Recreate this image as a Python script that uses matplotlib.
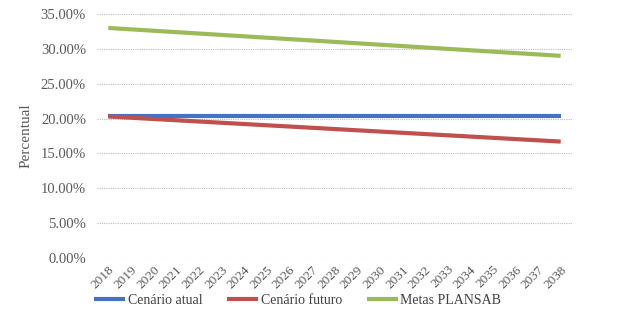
import matplotlib
matplotlib.use("Agg")
import matplotlib.pyplot as plt
from matplotlib.ticker import FuncFormatter

years = [str(y) for y in range(2018, 2039)]
cenario_atual = [20.3] * 21
cenario_futuro = [20.3, 20.12, 19.94, 19.76, 19.58, 19.4, 19.22, 19.04, 18.86, 18.68, 18.5,
                  18.32, 18.14, 17.96, 17.78, 17.6, 17.42, 17.24, 17.06, 16.88, 16.7]
metas_plansab = [33.0, 32.8, 32.6, 32.4, 32.2, 32.0, 31.8, 31.6, 31.4, 31.2, 31.0,
                 30.8, 30.6, 30.4, 30.2, 30.0, 29.8, 29.6, 29.4, 29.2, 29.0]
y_ticks = [0, 5, 10, 15, 20, 25, 30, 35]

plt.rcParams['font.family'] = ['Liberation Serif', 'DejaVu Serif']
fig = plt.figure(figsize=(6.23, 3.29), dpi=100)
ax = fig.add_axes([97/623, 71/329, 475/623, 244/329])

x = list(range(len(years)))
ax.plot(x, cenario_atual, color='#4472C4', lw=3.0, label='Cenário atual', solid_capstyle='butt')
ax.plot(x, cenario_futuro, color='#C0504D', lw=3.0, label='Cenário futuro', solid_capstyle='butt')
ax.plot(x, metas_plansab, color='#9BBB59', lw=3.0, label='Metas PLANSAB', solid_capstyle='butt')

ax.set_xlim(-0.5, len(years) - 0.5)
ax.set_ylim(0, 35)
ax.set_yticks(y_ticks)
ax.yaxis.set_major_formatter(FuncFormatter(lambda v, p: f"{v:.2f}%"))
ax.set_xticks(x)
ax.set_xticklabels(years, rotation=45, ha='right', rotation_mode='anchor')
ax.grid(axis='y', color='#BFBFBF', linestyle=(0, (1, 1)), lw=0.8)
ax.set_axisbelow(True)
for s in ax.spines.values():
    s.set_visible(False)
ax.tick_params(axis='both', length=0, colors='#595959')
ax.tick_params(axis='y', pad=8, labelsize=10.5)
ax.tick_params(axis='x', labelsize=9.5, pad=4)
ax.set_ylabel('Percentual', color='#595959', fontsize=11, labelpad=6)

fig.legend(loc='center', bbox_to_anchor=(0.478, 0.088), ncol=3, frameon=False,
           fontsize=10, labelcolor='#404040', handlelength=2.2, columnspacing=1.8,
           handletextpad=0.2)

fig.savefig('out.png', dpi=100)
